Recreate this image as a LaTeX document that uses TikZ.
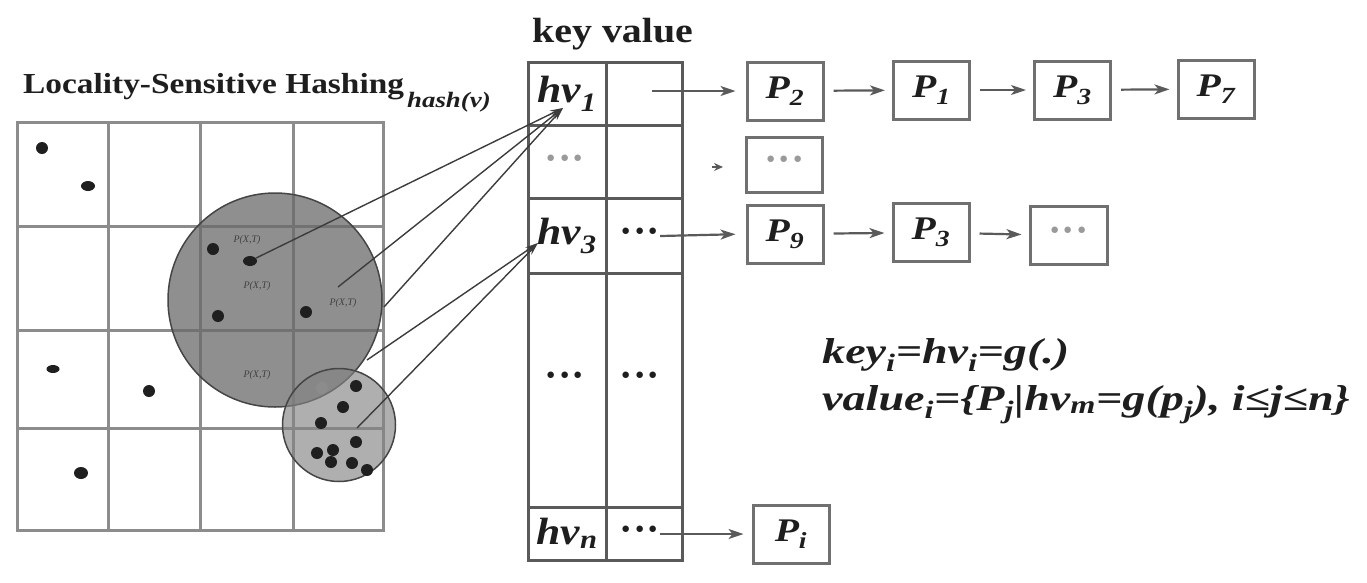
\documentclass[tikz,border=0pt]{standalone}
\usepackage{fontspec}
\setmainfont{Liberation Serif}
\usetikzlibrary{arrows.meta,shapes.geometric}
\definecolor{txt}{HTML}{1E1E1E}
\definecolor{gridc}{HTML}{8C8C8C}
\definecolor{tabc}{HTML}{5A5A5A}
\definecolor{boxc}{HTML}{707070}
\definecolor{arrc}{HTML}{5A5A5A}
\definecolor{connc}{HTML}{3C3C3C}
\definecolor{bigfill}{HTML}{6A6A6A}
\definecolor{smallfill}{HTML}{848484}
\definecolor{circline}{HTML}{454545}
\definecolor{lightdots}{HTML}{9A9A9A}
\newcommand{\hs}[2]{\scalebox{#1}[1]{#2}}
\newcommand{\hvfont}{\fontsize{38}{38}\selectfont\bfseries\itshape}
\newcommand{\pfont}{\fontsize{33}{33}\selectfont\bfseries\itshape}
\newcommand{\dotsfont}{\fontsize{40}{40}\selectfont\bfseries}
\begin{document}
\begin{tikzpicture}[x=1pt,y=-1pt,
  lshgrid/.style={draw=gridc,line width=3pt,line cap=rect},
  tcell/.style={draw=tabc,line width=3pt,inner sep=0,text=txt},
  pbox/.style={draw=boxc,line width=3pt,inner sep=0,minimum width=76pt,minimum height=58pt,text=txt,font=\pfont},
  chain/.style={draw=arrc,line width=2.2pt,-{Stealth[length=15pt,width=10pt,inset=4pt]},shorten <=9pt,shorten >=7pt},
  conn/.style={draw=connc,line width=1.4pt,-{Stealth[length=13pt,width=7pt]}},
  dotn/.style={circle,fill=black!88,inner sep=0,minimum size=12pt},
  edot/.style={ellipse,fill=black!88,inner sep=0,minimum width=14pt,minimum height=10pt},
  ptlabel/.style={inner sep=0,text=black!75,font=\fontsize{10}{10}\selectfont\itshape},
  plain/.style={inner sep=0,text=txt}
]
\useasboundingbox (0,0) rectangle (1367,582);

% titles
\node[plain,anchor=base west] (title) at (23,93) {\fontsize{29}{29}\selectfont\bfseries\hs{1.15}{Locality-Sensitive Hashing}};
\node[plain,anchor=base west] (hashv) at (407,107) {\fontsize{22}{22}\selectfont\bfseries\itshape\hs{1.22}{hash(v)}};
\node[plain,anchor=base west] (keyvalue) at (532,42) {\fontsize{35}{35}\selectfont\bfseries\hs{1.14}{key value}};

% grid
\foreach \x in {17,108,200,293,383} \draw[lshgrid] (\x,122) -- (\x,530);
\foreach \y in {122,226,330,428,530} \draw[lshgrid] (17,\y) -- (383,\y);

% circles
\node[circle,minimum size=214pt,inner sep=0,fill=bigfill,fill opacity=0.75,draw=circline,line width=1.5pt] (bigC) at (275,300) {};
\node[circle,minimum size=113pt,inner sep=0,fill=smallfill,fill opacity=0.65,draw=circline,line width=1.5pt] (smallC) at (339,425) {};

% dots outside
\node[dotn] (a1) at (42,148) {};
\node[edot] (a2) at (88,186) {};
\node[edot,minimum width=13pt,minimum height=8pt] (a3) at (53,369) {};
\node[dotn] (a4) at (149,391) {};
\node[edot,minimum width=14pt,minimum height=12pt] (a5) at (81,473) {};
% dots in big circle
\node[dotn] (b1) at (213,249) {};
\node[edot] (b2) at (250,261) {};
\node[dotn] (b3) at (218,316) {};
\node[dotn] (b4) at (306,312) {};
% dots in small circle
\node[dotn,fill=black!45] (c0) at (322,388) {};
\node[dotn] (c1) at (356,386) {};
\node[dotn] (c2) at (343,407) {};
\node[dotn] (c3) at (321,423) {};
\node[dotn] (c4) at (356,442) {};
\node[dotn] (c5) at (317,453) {};
\node[dotn] (c6) at (333,450) {};
\node[dotn] (c7) at (331,462) {};
\node[dotn] (c8) at (352,463) {};
\node[dotn] (c9) at (367,470) {};

% P(X,T) labels
\node[ptlabel] (l1) at (247,240) {P(X,T)};
\node[ptlabel] (l2) at (257,286) {P(X,T)};
\node[ptlabel] (l3) at (343,303) {P(X,T)};
\node[ptlabel] (l4) at (257,375) {P(X,T)};

% table
\node[tcell,minimum width=78pt,minimum height=63pt,font=\hvfont] (k1) at (567,93.5) {\hs{1.15}{hv\textsubscript{1}}};
\node[tcell,minimum width=76pt,minimum height=63pt] (v1) at (644,93.5) {};
\node[tcell,minimum width=78pt,minimum height=73pt] (k2) at (567,161.5) {};
\node[tcell,minimum width=76pt,minimum height=73pt] (v2) at (644,161.5) {};
\node[tcell,minimum width=78pt,minimum height=75pt,font=\hvfont] (k3) at (567,235.5) {\hs{1.15}{hv\textsubscript{3}}};
\node[tcell,minimum width=76pt,minimum height=75pt] (v3) at (644,235.5) {};
\node[tcell,minimum width=78pt,minimum height=234pt] (k4) at (567,390) {};
\node[tcell,minimum width=76pt,minimum height=234pt] (v4) at (644,390) {};
\node[tcell,minimum width=78pt,minimum height=53pt,font=\hvfont] (k5) at (567,533.5) {\hs{1.15}{hv\textsubscript{n}}};
\node[tcell,minimum width=76pt,minimum height=53pt] (v5) at (644,533.5) {};

\node[plain,font=\dotsfont,text=lightdots] (d2) at (565,163) {···};
\node[plain,font=\dotsfont] (d3) at (640,236) {···};
\node[plain,font=\dotsfont] (d4k) at (565,380) {···};
\node[plain,font=\dotsfont] (d4v) at (640,380) {···};
\node[plain,font=\dotsfont] (d5) at (640,534) {···};

% chain boxes
\node[pbox] (P2) at (785,91) {\hs{1.2}{P\textsubscript{2}}};
\node[pbox] (P1) at (931.5,90) {\hs{1.2}{P\textsubscript{1}}};
\node[pbox] (P3a) at (1072.5,90) {\hs{1.2}{P\textsubscript{3}}};
\node[pbox] (P7) at (1216,89) {\hs{1.2}{P\textsubscript{7}}};
\node[pbox,minimum height=55pt,font=\dotsfont,text=lightdots] (R2) at (784.5,164.5) {···};
\node[pbox] (P9) at (785,234) {\hs{1.2}{P\textsubscript{9}}};
\node[pbox] (P3b) at (931,232.5) {\hs{1.2}{P\textsubscript{3}}};
\node[pbox,minimum width=77pt,font=\dotsfont,text=lightdots] (R3) at (1068.5,235.5) {···};
\node[pbox] (Pi) at (791,534) {\hs{1.2}{P\textsubscript{i}}};

% chain arrows
\coordinate (s1) at (652,91);
\draw[chain,shorten <=0pt,shorten >=10pt] (s1) -- (P2.west);
\draw[chain] (P2) -- (P1);
\draw[chain] (P1) -- (P3a);
\draw[chain] (P3a) -- (P7);
\coordinate (s2a) at (712,167);
\coordinate (s2b) at (723,167);
\draw[draw=arrc,line width=2pt,-{Stealth[length=9pt,width=8pt]}] (s2a) -- (s2b);
\draw[chain,shorten <=0pt,shorten >=10pt] (d3.east) -- (P9.west);
\draw[chain] (P9) -- (P3b);
\draw[chain] (P3b) -- (R3);
\draw[chain,shorten <=0pt,shorten >=8pt] (d5.east) -- (Pi.west);

% connectors from the circles
\coordinate (h1in) at (563,108);
\coordinate (h3in) at (538,243);
\coordinate (e2) at (338,287);
\coordinate (e3) at (384,307);
\coordinate (e4) at (367,360);
\coordinate (e5) at (357,428);
\draw[conn] (b2) -- (h1in);
\draw[conn] (e2) -- (h1in);
\draw[conn] (e3) -- (h1in);
\draw[conn] (e4) -- (h3in);
\draw[conn] (e5) -- (h3in);

% formulas
\node[plain,anchor=base west] (f1) at (822,363) {\fontsize{36}{36}\selectfont\bfseries\itshape\hs{1.28}{key\textsubscript{i}=hv\textsubscript{i}=g(.)}};
\node[plain,anchor=base west] (f2) at (822,410) {\fontsize{36}{36}\selectfont\bfseries\itshape\hs{1.28}{value\textsubscript{i}=\{P\textsubscript{j}|hv\textsubscript{m}=g(p\textsubscript{j}), i≤j≤n\}}};
\end{tikzpicture}
\end{document}
